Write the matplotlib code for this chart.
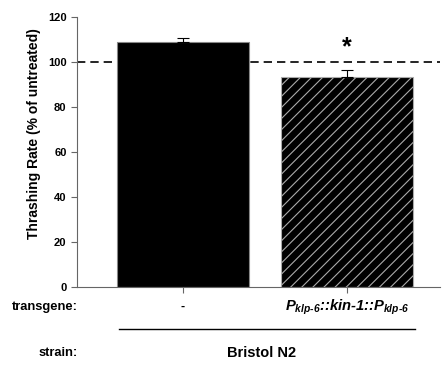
import numpy
from matplotlib import pyplot

pyplot.rcParams['font.family'] = ['Liberation Sans', 'DejaVu Sans']
pyplot.rcParams['mathtext.fontset'] = 'custom'
pyplot.rcParams['mathtext.it'] = 'Liberation Sans:italic:bold'
pyplot.rcParams['mathtext.rm'] = 'Liberation Sans:italic:bold'
pyplot.rcParams['hatch.linewidth'] = 0.8

# Datos
groups = ['-', r'$P_{klp\text{-}6}$::kin-1::$P_{klp\text{-}6}$']
rates = [109.0, 93.5]
errors = [1.8, 3.0]
reference = 100
yticks = [0, 20, 40, 60, 80, 100, 120]

fig = pyplot.figure(figsize=(4.45, 3.65), dpi=100)
ax = fig.add_axes([0.173, 0.214, 0.816, 0.739])

x = numpy.arange(len(rates))
ax.bar(x[0], rates[0], width=0.8, color='black', edgecolor='#888888', linewidth=0.8)
ax.bar(x[1], rates[1], width=0.8, color='black', edgecolor='#aaaaaa', linewidth=0.8, hatch='///')
ax.errorbar(x, [r + e / 2 for r, e in zip(rates, errors)], yerr=[[e / 2 for e in errors], [e / 2 for e in errors]],
            fmt='none', ecolor='black', elinewidth=0.8, capsize=4, capthick=0.8)
ax.axhline(reference, color='black', linestyle=(0, (5, 3)), linewidth=1.2, zorder=0)

ax.set_xlim(-0.646, 1.567)
ax.set_ylim(0, 120)
ax.set_yticks(yticks)
ax.set_xticks(x)
ax.set_xticklabels([])
for lab in ax.get_yticklabels():
    lab.set_fontweight('bold')
    lab.set_fontsize(8)
ax.tick_params(axis='both', direction='out', length=4, width=0.8, color='#666666')
ax.spines['top'].set_visible(False)
ax.spines['right'].set_visible(False)
for s in ['left', 'bottom']:
    ax.spines[s].set_color('#666666')
    ax.spines[s].set_linewidth(0.8)
ax.set_ylabel('Thrashing Rate (% of untreated)', fontsize=10, fontweight='bold')
ax.yaxis.set_label_coords(-0.1, 0.567)

ax.text(x[1], 106.5, '*', ha='center', va='center', fontsize=18, fontweight='bold')

# Etiquetas debajo del eje
fig.text(78 / 445, 1 - 307 / 365, 'transgene:', ha='right', va='center', fontsize=9.3, fontweight='bold')
fig.text(78 / 445, 1 - 353 / 365, 'strain:', ha='right', va='center', fontsize=9.3, fontweight='bold')
ax.text(x[0], -9, groups[0], ha='center', va='center', fontsize=9, fontweight='bold', clip_on=False)
ax.text(x[1], -9, groups[1], ha='center', va='center', fontsize=10.6, fontweight='bold', style='italic',
        clip_on=False)
fig.add_artist(pyplot.Line2D([119 / 445, 415 / 445], [1 - 329 / 365, 1 - 329 / 365], color='black', linewidth=1.0))
fig.text(262 / 445, 1 - 353 / 365, 'Bristol N2', ha='center', va='center', fontsize=10.5, fontweight='bold')

pyplot.savefig('out.png', dpi=100)
pyplot.close()
